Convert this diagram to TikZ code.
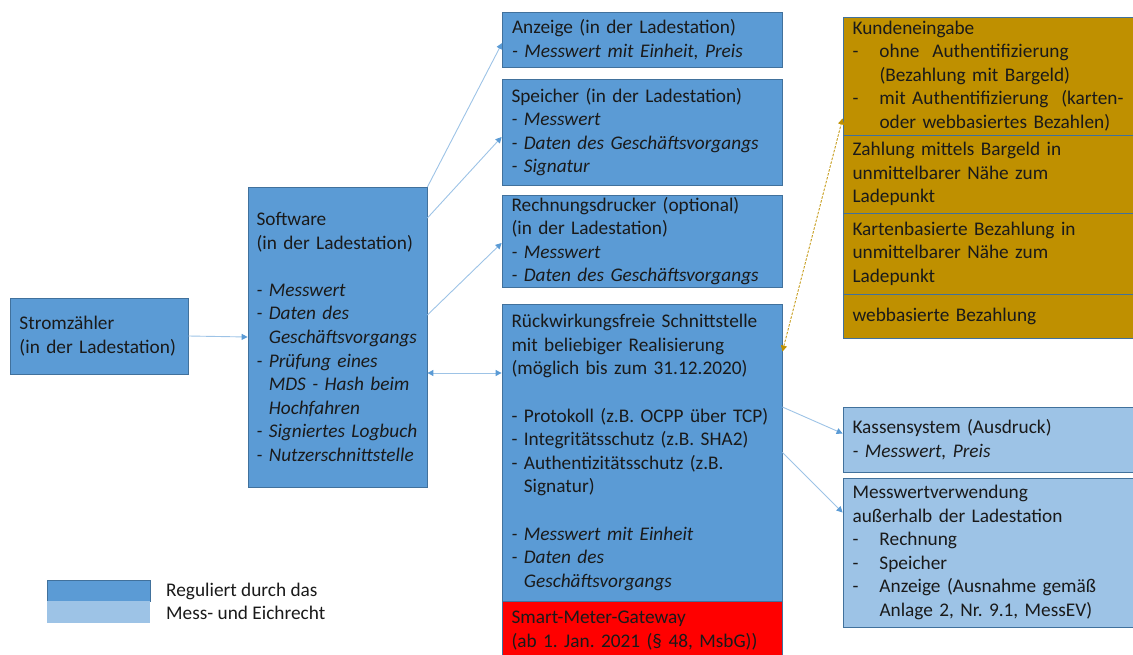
\documentclass[tikz,border=0pt]{standalone}
\usepackage{fontspec}
\setmainfont{Carlito}
\usetikzlibrary{arrows.meta}
\definecolor{regblue}{HTML}{5B9BD5}
\definecolor{lightblue}{HTML}{9DC3E6}
\definecolor{bordblue}{HTML}{41719C}
\definecolor{linkblue}{HTML}{9DC3E6}
\definecolor{goldbox}{HTML}{BF9000}
\definecolor{txt}{HTML}{1A1A1A}
\newcommand{\hang}{\phantom{- }}
\newcommand{\tabdash}{\makebox[27pt][l]{-}}
\newcommand{\tabind}{\hspace*{27pt}}
\begin{document}
\frenchspacing
\begin{tikzpicture}
[x=1pt,y=-1pt,
 box/.style={shape=rectangle,draw=bordblue,line width=0.8pt,inner xsep=9.5pt,inner ysep=0pt,
   align=left,text=txt,font=\fontsize{19.3}{23.6}\selectfont},%
 dark/.style={box,fill=regblue},%
 light/.style={box,fill=lightblue},%
 gold/.style={box,fill=goldbox,minimum width=310pt,text width=291pt},%
 redbox/.style={box,fill=red},%
 wide/.style={minimum width=280pt,text width=261pt},%
 conn/.style={draw=linkblue,line width=0.9pt,-{Triangle[length=6pt,width=6pt,color=regblue]}},%
 both/.style={draw=linkblue,line width=0.9pt,{Triangle[length=6pt,width=6pt,color=regblue]}-{Triangle[length=6pt,width=6pt,color=regblue]}},%
 payline/.style={draw=goldbox,line width=0.8pt,dash pattern=on 2.5pt off 1.5pt,
   {Triangle[length=6pt,width=6pt]}-{Triangle[length=6pt,width=6pt]}}]
\useasboundingbox (0,0) rectangle (1133,655);
%% boxes in the charging station
\node (strom) at (99,336) [dark,minimum width=178pt,minimum height=76pt,text width=159pt]
  {Stromzähler\\(in der Ladestation)};
\node (soft) at (337.5,337) [dark,minimum width=179pt,minimum height=300pt,inner xsep=8.5pt,text width=162pt]
  {Software\\(in der Ladestation)\\[23.6pt]
   \textit{- Messwert}\\\textit{- Daten des}\\\hang\textit{Geschäftsvorgangs}\\
   \textit{- Prüfung eines}\\\hang\textit{MDS - Hash beim}\\\hang\textit{Hochfahren}\\
   \mbox{\textit{- Signiertes Logbuch}}\\\textit{- Nutzerschnittstelle}};
\node (anz) at (642.5,39.5) [dark,wide,minimum height=55pt]
  {Anzeige (in der Ladestation)\\\textit{- Messwert mit Einheit, Preis}};
\node (sp) at (642,132) [dark,wide,minimum height=106pt]
  {Speicher (in der Ladestation)\\\textit{- Messwert}\\\textit{- Daten des Geschäftsvorgangs}\\\textit{- Signatur}};
\node (rd) at (642,241) [dark,wide,minimum height=92pt]
  {Rechnungsdrucker (optional)\\(in der Ladestation)\\\textit{- Messwert}\\\textit{- Daten des Geschäftsvorgangs}};
\node (rwf) at (642,452.5) [dark,wide,minimum height=297pt]
  {Rückwirkungsfreie Schnittstelle\\mit beliebiger Realisierung\\(möglich bis zum 31.12.2020)\\[23.6pt]
   - Protokoll (z.B. OCPP über TCP)\\- Integritätsschutz (z.B. SHA2)\\- Authentizitätsschutz (z.B.\\\hang Signatur)\\[23.6pt]
   \textit{- Messwert mit Einheit}\\\textit{- Daten des}\\\hang\textit{Geschäftsvorgangs}};
\node (smgw) at (642,630.5) [redbox,wide,minimum height=59pt]
  {Smart-Meter-Gateway\\(ab 1. Jan. 2021 (§ 48, MsbG))};
%% payment boxes
\node (kund) at (998,76) [gold,minimum height=118pt]
  {Kundeneingabe\\\tabdash ohne\ \ Authentifizierung\\\tabind(Bezahlung mit Bargeld)\\
   \tabdash mit Authentifizierung\ \ (karten-\\\tabind oder webbasiertes Bezahlen)};
\node (zahl) at (998,174) [gold,minimum height=78pt]
  {Zahlung mittels Bargeld in\\unmittelbarer Nähe zum\\Ladepunkt};
\node (karte) at (998,253.5) [gold,minimum height=81pt]
  {Kartenbasierte Bezahlung in\\unmittelbarer Nähe zum\\Ladepunkt};
\node (web) at (998,316) [gold,minimum height=44pt] {webbasierte Bezahlung};
%% outside the charging station
\node (kasse) at (998,439.5) [light,minimum width=310pt,text width=291pt,minimum height=65pt]
  {Kassensystem (Ausdruck)\\\textit{- Messwert, Preis}};
\node (mwv) at (998,552.5) [light,minimum width=310pt,text width=291pt,minimum height=149pt]
  {Messwertverwendung\\außerhalb der Ladestation\\\tabdash Rechnung\\\tabdash Speicher\\
   \tabdash Anzeige (Ausnahme gemäß\\\tabind Anlage 2, Nr. 9.1, MessEV)};
%% legend
\node (legdark) at (98.5,590.5) [box,fill=regblue,minimum width=103pt,minimum height=21pt] {};
\node (leglight) at (98.5,612) [box,draw=none,fill=lightblue,minimum width=103pt,minimum height=22pt] {};
\node (legtxt) at (166,601.5) [anchor=west,align=left,inner sep=0pt,text=txt,font=\fontsize{19.3}{23.6}\selectfont]
  {Reguliert durch das\\Mess- und Eichrecht};
%% connectors
\draw[conn] (strom.east) -- (soft.west);
\foreach \target/\ys/\ts in {anz/150/-3.5, sp/119/-5, rd/22/-2}
{
  \draw[conn] ([yshift=\ys pt]soft.east) -- ([yshift=\ts pt]\target.west);
}
\draw[both] ([yshift=-36pt]soft.east) -- ([yshift=-36pt]soft.east -| rwf.west);
\draw[conn] ([yshift=45.5pt]rwf.east) -- ([yshift=6pt]kasse.west);
\draw[conn] (rwf.east) -- ([yshift=40pt]mwv.west);
\draw[payline] ([yshift=-48pt]rwf.north east) -- ([yshift=17pt]kund.south west);
\end{tikzpicture}
\end{document}
